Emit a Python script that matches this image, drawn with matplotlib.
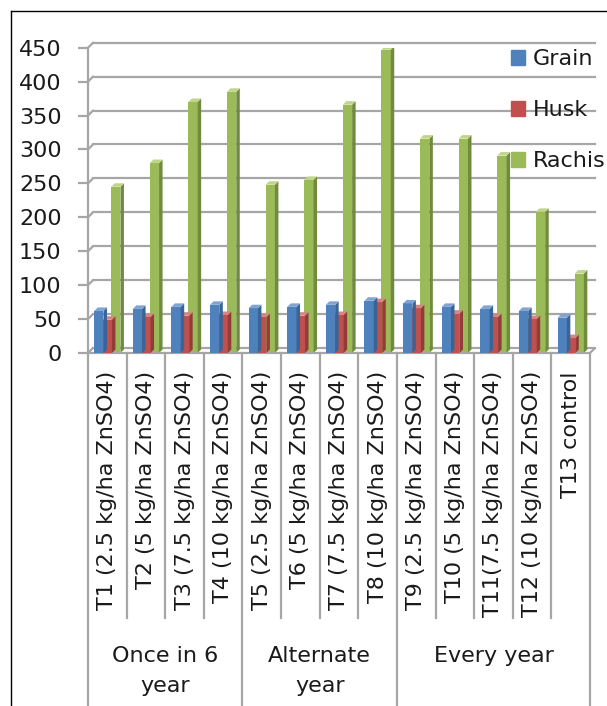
import matplotlib.pyplot as plt
import matplotlib.transforms as mtransforms
from matplotlib.patches import Polygon, Patch
from matplotlib.lines import Line2D

# data
treatments = ["T1 (2.5 kg/ha ZnSO4)", "T2 (5 kg/ha ZnSO4)", "T3 (7.5 kg/ha ZnSO4)",
              "T4 (10 kg/ha ZnSO4)", "T5 (2.5 kg/ha ZnSO4)", "T6 (5 kg/ha ZnSO4)",
              "T7 (7.5 kg/ha ZnSO4)", "T8 (10 kg/ha ZnSO4)", "T9 (2.5 kg/ha ZnSO4)",
              "T10 (5 kg/ha ZnSO4)", "T11(7.5 kg/ha ZnSO4)", "T12 (10 kg/ha ZnSO4)",
              "T13 control"]
groups = ["Once in 6\nyear", "Alternate\nyear", "Every year"]
group_sizes = [4, 4, 5]

grain = [62, 65, 68, 71, 66, 68, 71, 77, 73, 68, 65, 62, 52]
husk = [49, 53, 55, 56, 53, 55, 56, 75, 66, 58, 53, 50, 22]
rachis = [245, 280, 370, 385, 248, 255, 366, 447, 316, 316, 291, 208, 117]

yticks = list(range(0, 451, 50))

series = [("Grain", grain, "#4F81BD", "#3A6496", "#7FA3D3", -0.22, 4),
          ("Husk", husk, "#C0504D", "#933B39", "#D88482", 0.0, 3),
          ("Rachis", rachis, "#9BBB59", "#718B3E", "#BED58A", 0.22, 2)]

grid_col = "#A6A6A6"
text_col = "#1A1A1A"
plt.rcParams["font.family"] = "DejaVu Sans"

fig = plt.figure(figsize=(6.07, 7.06), dpi=100)
W, H = 607, 706
x_left, x_right, y_zero, y_top = 88, 590, 353, 47.7
ax = fig.add_axes([x_left / W, 1 - y_zero / H, (x_right - x_left) / W, (y_zero - y_top) / H])
ax.set_xlim(0, len(treatments))
ax.set_ylim(0, 450)

# 3d depth: a few pixels right and up
depth_px = 5
off = mtransforms.ScaledTranslation(depth_px / 100, depth_px / 100, fig.dpi_scale_trans)
back = ax.transData + off

# back wall gridlines + slanted side wall edges
for v in yticks:
    ax.plot([0, len(treatments)], [v, v], transform=back, color=grid_col, lw=1.6,
            zorder=0, clip_on=False)
    ax.annotate("", xy=(0, v), xycoords=back, xytext=(0, v), textcoords="data",
                arrowprops=dict(arrowstyle="-", color=grid_col, lw=1.6, shrinkA=0, shrinkB=0),
                annotation_clip=False)
ax.annotate("", xy=(len(treatments), 0), xycoords=back, xytext=(len(treatments), 0),
            textcoords="data",
            arrowprops=dict(arrowstyle="-", color=grid_col, lw=1.6, shrinkA=0, shrinkB=0),
            annotation_clip=False)

# bars with a side and a top face
bw = 0.24
dxd = 3.5 * len(treatments) / (x_right - x_left)
dyd = 3.5 * 450 / (y_zero - y_top)
centers = [i + 0.5 for i in range(len(treatments))]
for name, vals, col, side, top, o, z in series:
    bars = ax.bar([c + o for c in centers], vals, width=bw, color=col, zorder=z, label=name)
    for r in bars:
        x0, w, h = r.get_x(), r.get_width(), r.get_height()
        ax.add_patch(Polygon([(x0 + w, 0), (x0 + w, h), (x0 + w + dxd, h + dyd), (x0 + w + dxd, dyd)],
                             closed=True, color=side, zorder=z, lw=0))
        ax.add_patch(Polygon([(x0, h), (x0 + w, h), (x0 + w + dxd, h + dyd), (x0 + dxd, h + dyd)],
                             closed=True, color=top, zorder=z, lw=0))

for s in ["top", "right"]:
    ax.spines[s].set_visible(False)
for s in ["left", "bottom"]:
    ax.spines[s].set_color(grid_col)
    ax.spines[s].set_linewidth(1.6)

ax.set_yticks(yticks)
ax.tick_params(axis="y", direction="out", length=7, width=1.6, color=grid_col, pad=12,
               labelsize=16, labelcolor=text_col)
ax.set_xticks(centers, treatments, rotation=90)
ax.tick_params(axis="x", length=0, pad=13, labelsize=16, labelcolor=text_col)

# category separators and group labels
trans = ax.get_xaxis_transform()
bounds = [0]
for g in group_sizes:
    bounds.append(bounds[-1] + g)
short_end = (y_zero - 618) / (y_zero - y_top)
long_end = (y_zero - 720) / (y_zero - y_top)
for b in range(len(treatments) + 1):
    end = long_end if b in bounds else short_end
    ax.plot([b, b], [0, end], transform=trans, color=grid_col, lw=1.6, clip_on=False)
for g, lab in enumerate(groups):
    mid = (bounds[g] + bounds[g + 1]) / 2
    ax.text(mid, (y_zero - 646) / (y_zero - y_top), lab, transform=trans, ha="center", va="top",
            fontsize=16, color=text_col, linespacing=1.6)

# legend
handles = [Patch(color=s[2]) for s in series]
fig.legend(handles, [s[0] for s in series], loc="upper left",
           bbox_to_anchor=(511 / W, 1 - 49 / H), frameon=False, fontsize=16,
           handlelength=0.65, handleheight=0.65, handletextpad=0.35, labelspacing=1.4,
           borderpad=0, borderaxespad=0, labelcolor=text_col)

# outer chart frame
fig.add_artist(Line2D([11 / W, 11 / W], [0, 1 - 11 / H], color="black", lw=1))
fig.add_artist(Line2D([11 / W, 1], [1 - 11 / H, 1 - 11 / H], color="black", lw=1))

fig.savefig("out.png", dpi=100)
